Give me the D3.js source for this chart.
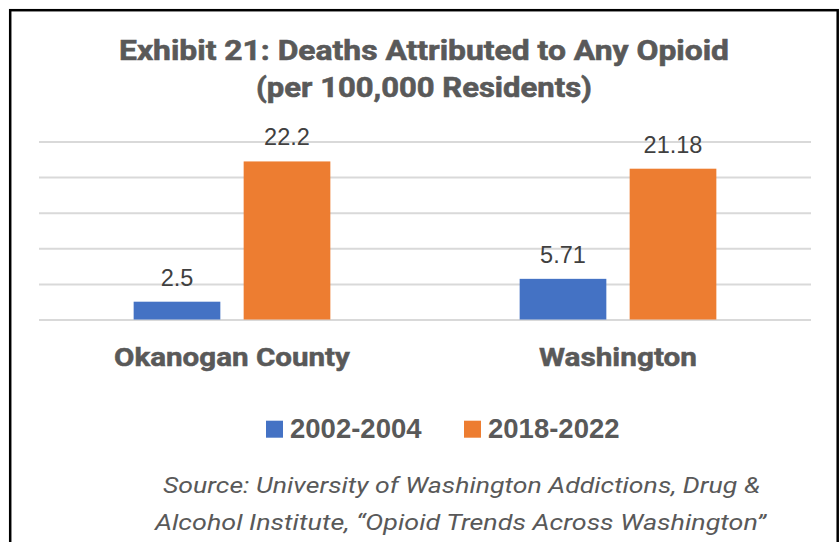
<!doctype html>
<html>
<head>
<meta charset="utf-8">
<title>Exhibit 21</title>
<script src="https://cdn.jsdelivr.net/npm/d3@7"></script>
<style>
  body { margin: 0; background: #fff; }
  svg { display: block; }
</style>
</head>
<body>
<svg width="840" height="542"></svg>
<script>
// chart data
var categories = ["Okanogan County", "Washington"];
var seriesNames = ["2002-2004", "2018-2022"];
var series1 = [2.5, 5.71];      // 2002-2004
var series2 = [22.2, 21.18];    // 2018-2022
var labels1 = ["2.5", "5.71"];
var labels2 = ["22.2", "21.18"];
var gridTicks = [0, 5, 10, 15, 20, 25];
var titleLines = ["Exhibit 21: Deaths Attributed to Any Opioid", "(per 100,000 Residents)"];
var sourceLines = ["Source: University of Washington Addictions, Drug &",
                   "Alcohol Institute, \u201cOpioid Trends Across Washington\u201d"];

var colors = ["#4472C4", "#ED7D31"];

var svg = d3.select("svg");

svg.append("rect")
    .attr("width", 840).attr("height", 542)
    .attr("fill", "#fff");

// outer frame (bottom edge is off the picture)
svg.append("rect")
    .attr("x", 10.2).attr("y", 10.2)
    .attr("width", 827.5).attr("height", 600)
    .attr("fill", "none")
    .attr("stroke", "#000")
    .attr("stroke-width", 2.5);

var plotLeft = 39, plotRight = 811, plotTop = 141.5, plotBottom = 319.5;

var y = d3.scaleLinear().domain([0, 25]).range([plotBottom, plotTop]);

var x0 = d3.scaleBand().domain(categories).range([plotLeft, plotRight]);
var groupW = 196.7;
var x1 = d3.scaleBand().domain(seriesNames).range([0, groupW]).paddingInner(0.212);

// gridlines
var grid = svg.append("g")
    .attr("transform", "translate(" + plotLeft + ",0)")
    .call(d3.axisLeft(y).tickValues(gridTicks).tickSize(-(plotRight - plotLeft)).tickFormat(""));
grid.select(".domain").remove();
grid.selectAll("line").attr("stroke", "#d9d9d9").attr("stroke-width", 2);

// title
svg.append("g").selectAll("text")
    .data(titleLines)
    .enter().append("text")
    .attr("x", 424)
    .attr("y", function (d, i) { return 60 + i * 36.5; })
    .attr("text-anchor", "middle")
    .attr("font-family", "Roboto, sans-serif")
    .attr("font-weight", "bold")
    .attr("font-size", 28)
    .attr("fill", "#595959")
    .attr("stroke", "#595959")
    .attr("stroke-width", 0.6)
    .attr("textLength", function (d, i) { return i == 0 ? 610 : 336; })
    .attr("lengthAdjust", "spacingAndGlyphs")
    .text(function (d) { return d; });

// bars
var rows = categories.map(function (c, i) {
    return { cat: c, vals: [
        { s: seriesNames[0], v: series1[i], label: labels1[i], k: 0 },
        { s: seriesNames[1], v: series2[i], label: labels2[i], k: 1 }
    ] };
});

var groups = svg.selectAll(".grp")
    .data(rows)
    .enter().append("g")
    .attr("class", "grp")
    .attr("transform", function (d) {
        return "translate(" + (x0(d.cat) + (x0.bandwidth() - groupW) / 2) + ",0)";
    });

groups.selectAll("rect")
    .data(function (d) { return d.vals; })
    .enter().append("rect")
    .attr("x", function (d) { return x1(d.s); })
    .attr("y", function (d) { return y(d.v); })
    .attr("width", x1.bandwidth())
    .attr("height", function (d) { return y(0) - y(d.v); })
    .attr("fill", function (d) { return colors[d.k]; });

groups.selectAll(".lbl")
    .data(function (d) { return d.vals; })
    .enter().append("text")
    .attr("class", "lbl")
    .attr("x", function (d) { return x1(d.s) + x1.bandwidth() / 2; })
    .attr("y", function (d) { return y(d.v) - 16; })
    .attr("text-anchor", "middle")
    .attr("font-family", "'Liberation Sans', Arial, sans-serif")
    .attr("font-size", 23.5)
    .attr("fill", "#404040")
    .text(function (d) { return d.label; });

// category labels
svg.selectAll(".cat")
    .data(categories)
    .enter().append("text")
    .attr("class", "cat")
    .attr("x", function (d) { return x0(d) + x0.bandwidth() / 2; })
    .attr("y", 366)
    .attr("text-anchor", "middle")
    .attr("font-family", "Roboto, sans-serif")
    .attr("font-weight", "bold")
    .attr("font-size", 26.5)
    .attr("fill", "#595959")
    .attr("stroke", "#595959")
    .attr("stroke-width", 0.5)
    .attr("textLength", function (d, i) { return i == 0 ? 236 : 158; })
    .attr("lengthAdjust", "spacingAndGlyphs")
    .text(function (d) { return d; });

// legend
var legX = [266, 464];
var leg = svg.selectAll(".leg")
    .data(seriesNames)
    .enter().append("g")
    .attr("class", "leg")
    .attr("transform", function (d, i) { return "translate(" + legX[i] + ",0)"; });
leg.append("rect")
    .attr("x", 0).attr("y", 420.7)
    .attr("width", 17).attr("height", 17)
    .attr("fill", function (d, i) { return colors[i]; });
leg.append("text")
    .attr("x", 24).attr("y", 437.7)
    .attr("font-family", "'Liberation Sans', Arial, sans-serif")
    .attr("font-weight", "bold")
    .attr("font-size", 27.5)
    .attr("fill", "#595959")
    .text(function (d) { return d; });

// source note
svg.selectAll(".src")
    .data(sourceLines)
    .enter().append("text")
    .attr("class", "src")
    .attr("x", function (d, i) { return i == 0 ? 163 : 155; })
    .attr("y", function (d, i) { return 493 + i * 37; })
    .attr("font-family", "Roboto, sans-serif")
    .attr("font-style", "italic")
    .attr("font-size", 22)
    .attr("fill", "#595959")
    .attr("textLength", function (d, i) { return i == 0 ? 597 : 611; })
    .attr("lengthAdjust", "spacingAndGlyphs")
    .text(function (d) { return d; });
</script>
</body>
</html>
